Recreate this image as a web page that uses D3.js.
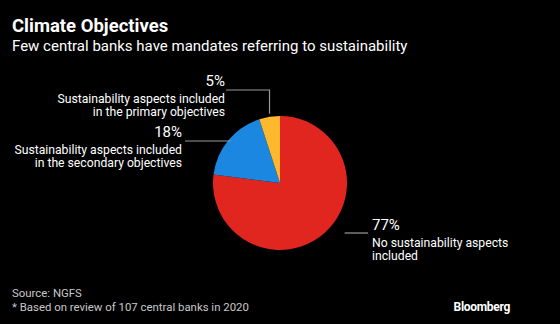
<!DOCTYPE html>
<html>
<head>
<meta charset="utf-8">
<script src="https://cdn.jsdelivr.net/npm/d3@7"></script>
<style>
  body { margin: 0; background: #000; }
  svg { display: block; font-family: Roboto, "DejaVu Sans", sans-serif; }
</style>
</head>
<body>
<div id="chart"></div>
<script>
// mandate categories, clockwise from 12 o'clock
const categories = [
  "No sustainability aspects included",
  "Sustainability aspects included in the secondary objectives",
  "Sustainability aspects included in the primary objectives"
];
const shares = [77, 18, 5];
const colors = ["#e0261f", "#1b87e0", "#fdb82e"];
// label text split over lines
const labelLines = [
  ["No sustainability aspects", "included"],
  ["Sustainability aspects included", "in the secondary objectives"],
  ["Sustainability aspects included", "in the primary objectives"]
];

const width = 560, height = 324;
const cx = 280, cy = 183, radius = 67;

const svg = d3.select("#chart").append("svg")
  .attr("width", width)
  .attr("height", height);

svg.append("rect").attr("width", width).attr("height", height).attr("fill", "#000");

svg.append("text")
  .attr("x", 12).attr("y", 32)
  .attr("fill", "#fff")
  .style("font-size", "18.5px").style("font-weight", "bold")
  .text("Climate Objectives");

svg.append("text")
  .attr("x", 12).attr("y", 51)
  .attr("fill", "#fff")
  .style("font-size", "15px")
  .text("Few central banks have mandates referring to sustainability");

const pie = d3.pie().sort(null).value(d => d);
const arc = d3.arc().innerRadius(0).outerRadius(radius);
const arcs = pie(shares);

const g = svg.append("g").attr("transform", `translate(${cx},${cy})`);
g.selectAll("path")
  .data(arcs)
  .enter().append("path")
  .attr("d", arc)
  .attr("fill", (d, i) => colors[i]);

// leader lines and labels, placed around the pie
const lineColor = "#9a9a9a";
const labelSize = "12.2px", pctSize = "15px";
const pointOn = (angle, r) => [cx + r * Math.sin(angle), cy - r * Math.cos(angle)];

// 77% slice: line starts near its lower-right edge
{
  const a = arcs[0];
  const p = pointOn(a.startAngle + (a.endAngle - a.startAngle) * 0.38, radius);
  const tx = 372, ty = 233;
  svg.append("path")
    .attr("d", `M${p[0]},${ty}H${tx - 4}`)
    .attr("stroke", lineColor).attr("fill", "none").attr("stroke-width", 1.2);
  svg.append("text").attr("x", tx).attr("y", 230)
    .attr("fill", "#fff").style("font-size", pctSize)
    .text(shares[0] + "%");
  labelLines[0].forEach((t, j) => {
    svg.append("text").attr("x", tx).attr("y", 247 + j * 13)
      .attr("fill", "#fff").style("font-size", labelSize).text(t);
  });
}

// 18% slice: horizontal line from the left label to the blue edge
{
  const a = arcs[1];
  const mid = (a.startAngle + a.endAngle) / 2;
  const p = pointOn(mid, radius);
  const tx = 182, ty = 141;
  svg.append("path")
    .attr("d", `M${tx + 3},${ty}H${p[0] + 2}`)
    .attr("stroke", lineColor).attr("fill", "none").attr("stroke-width", 1.2);
  svg.append("text").attr("x", tx).attr("y", 137).attr("text-anchor", "end")
    .attr("fill", "#fff").style("font-size", pctSize)
    .text(shares[1] + "%");
  labelLines[1].forEach((t, j) => {
    svg.append("text").attr("x", tx).attr("y", 154 + j * 13).attr("text-anchor", "end")
      .attr("fill", "#fff").style("font-size", labelSize).text(t);
  });
}

// 5% slice: elbow line from the label down to the yellow slice top
{
  const a = arcs[2];
  const mid = (a.startAngle + a.endAngle) / 2;
  const p = pointOn(mid, radius);
  const tx = 225, ty = 90;
  svg.append("path")
    .attr("d", `M${tx + 1},${ty}H${p[0]}V${p[1] - 3}`)
    .attr("stroke", lineColor).attr("fill", "none").attr("stroke-width", 1.2);
  svg.append("text").attr("x", tx).attr("y", 86).attr("text-anchor", "end")
    .attr("fill", "#fff").style("font-size", pctSize)
    .text(shares[2] + "%");
  labelLines[2].forEach((t, j) => {
    svg.append("text").attr("x", tx).attr("y", 103 + j * 13).attr("text-anchor", "end")
      .attr("fill", "#fff").style("font-size", labelSize).text(t);
  });
}

svg.append("text")
  .attr("x", 12).attr("y", 297)
  .attr("fill", "#c8c8c8").style("font-size", "11.4px")
  .text("Source: NGFS");
svg.append("text")
  .attr("x", 12).attr("y", 311)
  .attr("fill", "#c8c8c8").style("font-size", "11.4px")
  .text("* Based on review of 107 central banks in 2020");

svg.append("text")
  .attr("x", 510).attr("y", 311).attr("text-anchor", "end")
  .attr("fill", "#fff").style("font-size", "12px").style("font-weight", "bold")
  .style("letter-spacing", "-0.3px")
  .text("Bloomberg");
</script>
</body>
</html>
